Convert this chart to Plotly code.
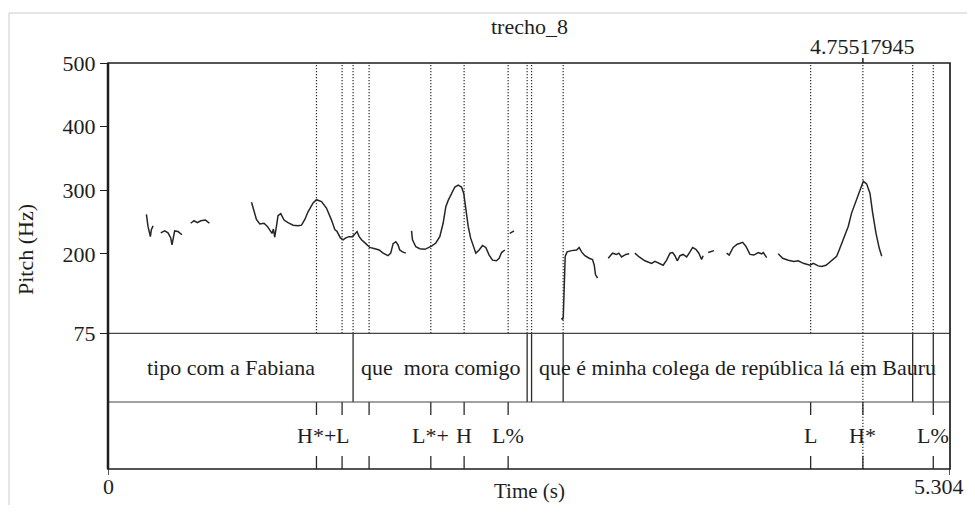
import plotly.graph_objects as go

# ---------------- data ----------------
title_text = "trecho_8"
t_max = 5.304
cursor_time = 4.75517945

pitch_ticks = [75, 200, 300, 400, 500]
pitch_range = [75, 500]

# pitch contour (s, Hz); None separates unvoiced gaps
pitch_time = [
    0.242, 0.252, 0.267, 0.273, 0.284, None,
    0.332, 0.357, 0.378, 0.395, 0.403, 0.412, 0.420, 0.441, 0.466, None,
    0.521, 0.542, 0.563, 0.584, 0.614, 0.639, None,
    0.904, 0.920, 0.935, 0.956, 0.983, 1.004, 1.025, 1.033, 1.042, 1.050, 1.061,
    1.071, 1.088, 1.109, 1.134, 1.166, 1.197, 1.219, 1.240, 1.260, 1.292, 1.313,
    1.345, 1.376, 1.408, 1.429, 1.443, 1.464, 1.481, 1.498, 1.519, 1.540, 1.555,
    1.569, 1.582, 1.597, 1.624, 1.649, 1.681, 1.708, 1.733, 1.764, 1.781, 1.796,
    1.813, 1.827, 1.838, 1.855, 1.876, None,
    1.912, 1.918, 1.939, 1.964, 1.996, 2.023, 2.038, 2.065, 2.090, 2.111, 2.128,
    2.143, 2.164, 2.185, 2.206, 2.227, 2.241, 2.254, 2.269, 2.284, 2.300, 2.317,
    2.338, 2.359, 2.380, 2.401, 2.422, 2.447, 2.464, 2.479, 2.500, None,
    2.531, 2.558, None,
    2.857, 2.864, 2.868, 2.872, 2.876, 2.880, 2.892, 2.920, 2.952, 2.968, 2.983,
    3.004, 3.031, 3.052, 3.063, 3.071, 3.084, None,
    3.151, 3.178, 3.204, 3.218, 3.235, 3.262, 3.283, None,
    3.319, 3.346, 3.382, 3.424, 3.445, 3.472, 3.497, 3.519, 3.540, 3.557, 3.571,
    3.586, 3.603, 3.623, 3.645, 3.666, 3.683, 3.703, 3.722, 3.739, 3.749, None,
    3.781, 3.817, None,
    3.897, 3.913, 3.938, 3.964, 3.998, 4.018, 4.044, 4.069, 4.096, 4.117, 4.128,
    4.149, None,
    4.222, 4.250, 4.285, 4.321, 4.348, 4.380, 4.422, 4.443, 4.474, 4.495, 4.523,
    4.558, 4.590, 4.606, 4.632, 4.663, 4.684, 4.712, 4.737, 4.758, 4.779, 4.800,
    4.817, 4.838, 4.858, 4.874,
]
pitch_hz = [
    262, 243, 227, 238, 244, None,
    233, 236, 233, 225, 214, 227, 236, 235, 230, None,
    248, 252, 249, 252, 253, 248, None,
    281, 266, 254, 247, 248, 243, 236, 232, 239, 226, 243,
    260, 263, 253, 249, 245, 244, 245, 254, 266, 280, 285,
    282, 272, 253, 238, 235, 225, 222, 225, 227, 227, 231,
    235, 227, 222, 216, 210, 208, 206, 201, 197, 201, 216,
    219, 214, 206, 203, 201, None,
    236, 222, 211, 208, 207, 210, 212, 217, 227, 248, 274,
    284, 295, 305, 308, 305, 295, 269, 243, 225, 214, 201,
    206, 213, 210, 198, 190, 189, 193, 202, 206, None,
    232, 236, None,
    99, 96, 101, 140, 175, 196, 203, 205, 206, 210, 203,
    197, 193, 191, 182, 167, 162, None,
    193, 201, 199, 201, 195, 199, 200, None,
    201, 195, 189, 185, 188, 185, 182, 190, 201, 202, 197,
    189, 197, 199, 195, 203, 210, 207, 201, 191, 197, None,
    202, 205, None,
    201, 198, 210, 215, 218, 212, 199, 198, 202, 200, 202,
    194, None,
    200, 193, 190, 188, 189, 185, 182, 185, 181, 180, 182,
    189, 196, 206, 222, 243, 264, 282, 298, 314, 310, 295,
    264, 232, 209, 196,
]

# tier 1 (words): interval boundaries and labels
tier1_bounds = [0.0, 1.5439, 2.6403, 2.6681, 2.8672, 5.0689, 5.1987, 5.304]
tier1_labels = ["tipo com a Fabiana", "que\u00a0 mora comigo", "", "",
                "que é minha colega de república lá em Bauru", "", ""]

# tier 2 (tones): point times and labels
tier2_times = [1.3132, 1.4746, 1.6447, 2.0335, 2.2433, 2.5206, 4.4262, 4.7552, 5.1987]
tier2_labels = ["H*+", "L", "", "L*+", "H", "L%", "L", "H*", "L%"]

x_tick_labels = ["0", "5.304"]

# ---------------- layout helpers (pixel geometry of the page) ----------------
PAGE_W, PAGE_H = 975, 513
BODY = 8                       # default body margin of the html page
W, H = PAGE_W - 2 * BODY, PAGE_H - 2 * BODY
L, R, T, B = 108, 950, 63, 469  # plot frame in page pixels
Y_PITCH = 333.3
Y_TIER = 402.0
TEXT = "#1e1e1e"
FONT = "Liberation Serif"
FS = 22


def px(x):
    return (x - L) / (R - L)


def py(y):
    return (B - y) / (B - T)


fig = go.Figure()
fig.add_trace(go.Scatter(x=pitch_time, y=pitch_hz, mode="lines",
                         line=dict(color="#262626", width=1.5),
                         connectgaps=False, hoverinfo="skip", showlegend=False))

shapes = []
dot = "1.2px,1.8px"
LC = "#2a2a2a"
inner_bounds = tier1_bounds[1:-1]
all_marks = sorted(set(inner_bounds + tier2_times))
for t in all_marks:
    shapes.append(dict(type="line", xref="x", yref="paper", x0=t, x1=t,
                       y0=py(Y_PITCH), y1=1, line=dict(color=LC, width=1.2, dash=dot)))
# cursor through tiers too
shapes.append(dict(type="line", xref="x", yref="paper", x0=cursor_time, x1=cursor_time,
                   y0=0, y1=py(Y_PITCH), line=dict(color=LC, width=1.2, dash=dot)))
shapes.append(dict(type="line", xref="x", yref="paper", x0=cursor_time, x1=cursor_time,
                   y0=1, y1=py(58), line=dict(color=TEXT, width=1.5)))
# tier 1 boundaries
for t in tier1_bounds[1:-1]:
    shapes.append(dict(type="line", xref="x", yref="paper", x0=t, x1=t,
                       y0=py(Y_TIER), y1=py(Y_PITCH), line=dict(color=LC, width=1.3)))
# tier 2 point ticks
for t in tier2_times:
    shapes.append(dict(type="line", xref="x", yref="paper", x0=t, x1=t,
                       y0=py(Y_TIER), y1=py(Y_TIER + 13), line=dict(color=LC, width=1.3)))
    shapes.append(dict(type="line", xref="x", yref="paper", x0=t, x1=t,
                       y0=py(B - 13), y1=0, line=dict(color=LC, width=1.3)))
# tier separators
for yy in (Y_PITCH, Y_TIER):
    shapes.append(dict(type="line", xref="paper", yref="paper", x0=0, x1=1,
                       y0=py(yy), y1=py(yy), line=dict(color="#444", width=1.2)))
# outer frame
shapes.append(dict(type="rect", xref="paper", yref="paper", x0=0, x1=1, y0=0, y1=1,
                   line=dict(color=TEXT, width=1.7)))
shapes.append(dict(type="line", xref="paper", yref="paper", x0=0, x1=0, y0=0, y1=1,
                   line=dict(color=TEXT, width=2.5)))
# x-axis end ticks
for xt in (0, t_max):
    shapes.append(dict(type="line", xref="x", yref="paper", x0=xt, x1=xt,
                       y0=0, y1=py(B + 6), line=dict(color=TEXT, width=1.5)))
# light screenshot frame
shapes.append(dict(type="line", xref="paper", yref="paper", x0=px(9), x1=px(9),
                   y0=py(PAGE_H), y1=py(13), line=dict(color="#cccccc", width=1)))
shapes.append(dict(type="line", xref="paper", yref="paper", x0=px(9), x1=px(PAGE_W),
                   y0=py(13), y1=py(13), line=dict(color="#cccccc", width=1)))

annotations = []
tier1_mid = (py(Y_PITCH) + py(Y_TIER)) / 2
for a, b, lab in zip(tier1_bounds[:-1], tier1_bounds[1:], tier1_labels):
    if lab:
        annotations.append(dict(x=(a + b) / 2, y=tier1_mid, xref="x", yref="paper",
                                text=lab, showarrow=False, xanchor="center", yanchor="middle",
                                font=dict(family=FONT, size=FS, color=TEXT)))
tier2_mid = py((Y_TIER + B) / 2)
for t, lab in zip(tier2_times, tier2_labels):
    if lab:
        annotations.append(dict(x=t, y=tier2_mid, xref="x", yref="paper",
                                text=lab, showarrow=False, xanchor="center", yanchor="middle",
                                font=dict(family=FONT, size=FS, color=TEXT)))
annotations.append(dict(x=cursor_time, y=py(46), xref="x", yref="paper",
                        text=f"{cursor_time:.8f}", showarrow=False, xanchor="center",
                        yanchor="middle", font=dict(family=FONT, size=FS, color=TEXT)))
annotations.append(dict(x=0.5, y=py(26), xref="paper", yref="paper", text=title_text,
                        showarrow=False, xanchor="center", yanchor="middle",
                        font=dict(family=FONT, size=FS, color=TEXT)))
annotations.append(dict(x=0.5, y=py(503.5), xref="paper", yref="paper", text="Time (s)",
                        showarrow=False, xanchor="center", yanchor="bottom",
                        borderpad=0,
                        font=dict(family=FONT, size=21, color=TEXT)))
annotations.append(dict(x=px(25), y=py(250), xref="paper", yref="paper", text="Pitch (Hz)",
                        showarrow=False, xanchor="center", yanchor="middle", textangle=-90,
                        font=dict(family=FONT, size=FS, color=TEXT)))
# x tick labels
annotations.append(dict(x=0, y=py(486), xref="x", yref="paper", text=x_tick_labels[0],
                        showarrow=False, xanchor="center", yanchor="middle",
                        font=dict(family=FONT, size=FS, color=TEXT)))
annotations.append(dict(x=px(966), y=py(486), xref="paper", yref="paper",
                        text=x_tick_labels[1], showarrow=False, xanchor="right",
                        yanchor="middle", font=dict(family=FONT, size=FS, color=TEXT)))

fig.update_layout(
    width=W, height=H,
    margin=dict(l=L - BODY, r=W - (R - BODY), t=T - BODY, b=H - (B - BODY), pad=0),
    paper_bgcolor="white", plot_bgcolor="white",
    shapes=shapes, annotations=annotations, showlegend=False,
    xaxis=dict(range=[0, t_max], showgrid=False, zeroline=False, showline=False,
               showticklabels=False, ticks=""),
    yaxis=dict(domain=[py(Y_PITCH), 1], range=pitch_range, showgrid=False, zeroline=False,
               showline=False, tickvals=pitch_ticks, ticks="outside", ticklen=7,
               tickwidth=1.4, tickcolor=TEXT,
               tickfont=dict(family=FONT, size=FS, color=TEXT)),
)

fig.write_html("out.html")
